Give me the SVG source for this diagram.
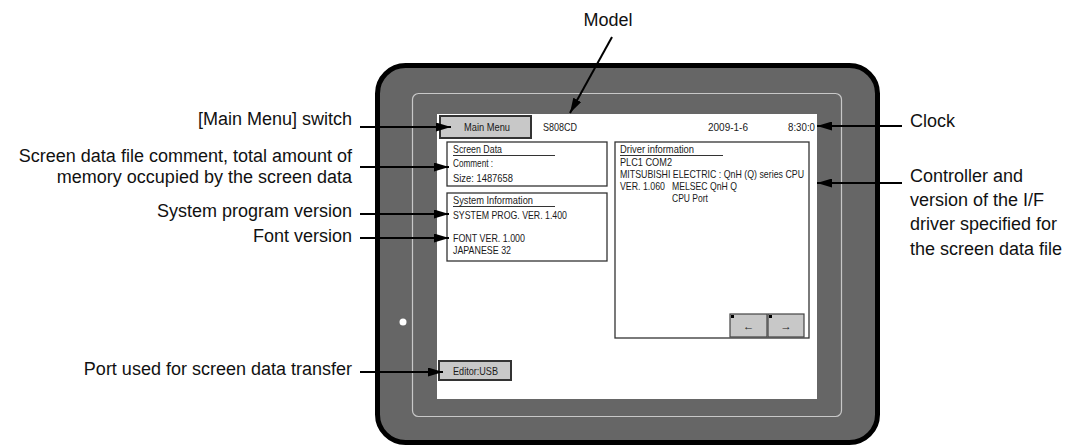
<svg xmlns="http://www.w3.org/2000/svg" width="1067" height="447" viewBox="0 0 1067 447">
<style>
.lbl{font-family:"Liberation Sans",Arial,sans-serif;font-size:18px;fill:#111}
.scr{font-family:"Liberation Sans",Arial,sans-serif;font-size:11.5px;fill:#1a1a1a}
.drv{font-size:10.4px}
.box{fill:#fff;stroke:#333;stroke-width:1.3}
.btn{fill:#c8c8c8;stroke:#333;stroke-width:2}
.sbtn{fill:#c8c8c8;stroke:#444;stroke-width:1.2}
.ul{stroke:#333;stroke-width:1}
.conn{stroke:#000;stroke-width:2;fill:none;marker-end:url(#ah)}
</style>
<defs>
<marker id="ah" viewBox="0 0 15 9" refX="15" refY="4.5" markerWidth="15" markerHeight="9" markerUnits="userSpaceOnUse" orient="auto">
<path d="M0,0 L15,4.5 L0,9 z" fill="#000"/>
</marker>
</defs>
<rect width="1067" height="447" fill="#fff"/>
<g id="device">
<rect x="377.5" y="65.5" width="500" height="377" rx="28" fill="#666" stroke="#000" stroke-width="5"/>
<rect x="412.5" y="93.5" width="429" height="323" rx="6" fill="none" stroke="#c8c8c8" stroke-width="1.2"/>
<circle cx="403" cy="322" r="3.5" fill="#fff"/>
<rect x="437" y="114" width="380" height="285" fill="#fff"/>
</g>
<g id="main-menu">
<rect class="btn" x="440" y="116" width="91" height="22"/>
<text class="scr" x="464" y="131" textLength="46" lengthAdjust="spacingAndGlyphs">Main Menu</text>
</g>
<g id="model-name">
<text class="scr" x="543" y="131" textLength="34" lengthAdjust="spacingAndGlyphs">S808CD</text>
</g>
<g id="clock">
<text class="scr" x="708" y="131" textLength="40" lengthAdjust="spacingAndGlyphs">2009-1-6</text>
<text class="scr" x="788" y="131" textLength="27" lengthAdjust="spacingAndGlyphs">8:30:0</text>
</g>
<g id="screen-data">
<rect class="box" x="447" y="142" width="160" height="44"/>
<text class="scr" x="453" y="153" textLength="49" lengthAdjust="spacingAndGlyphs">Screen Data</text>
<line class="ul" x1="453" y1="155.5" x2="555" y2="155.5"/>
<text class="scr" x="453" y="167" textLength="40" lengthAdjust="spacingAndGlyphs">Comment :</text>
<text class="scr" x="453" y="182" textLength="60" lengthAdjust="spacingAndGlyphs">Size: 1487658</text>
</g>
<g id="system-info">
<rect class="box" x="447" y="193" width="160" height="68"/>
<text class="scr" x="453" y="204" textLength="80" lengthAdjust="spacingAndGlyphs">System Information</text>
<line class="ul" x1="453" y1="206.5" x2="555" y2="206.5"/>
<text class="scr" x="453" y="219" textLength="114" lengthAdjust="spacingAndGlyphs">SYSTEM PROG. VER. 1.400</text>
<text class="scr" x="453" y="241.5" textLength="72" lengthAdjust="spacingAndGlyphs">FONT VER. 1.000</text>
<text class="scr" x="453" y="253.5" textLength="58" lengthAdjust="spacingAndGlyphs">JAPANESE 32</text>
</g>
<g id="driver-info">
<rect class="box" x="615" y="142" width="194" height="196"/>
<text class="scr" x="620" y="153" textLength="74" lengthAdjust="spacingAndGlyphs">Driver information</text>
<line class="ul" x1="620" y1="155.5" x2="723" y2="155.5"/>
<text class="scr drv" x="620" y="165.5" textLength="52" lengthAdjust="spacingAndGlyphs">PLC1 COM2</text>
<text class="scr drv" x="620" y="177.5" textLength="184" lengthAdjust="spacingAndGlyphs">MITSUBISHI ELECTRIC : QnH (Q) series CPU</text>
<text class="scr drv" x="620" y="189.5" textLength="45" lengthAdjust="spacingAndGlyphs">VER. 1.060</text>
<text class="scr drv" x="672" y="189.5" textLength="65" lengthAdjust="spacingAndGlyphs">MELSEC QnH Q</text>
<text class="scr drv" x="672" y="201.5" textLength="36" lengthAdjust="spacingAndGlyphs">CPU Port</text>
</g>
<g id="page-buttons">
<rect class="sbtn" x="730" y="314" width="37" height="23"/>
<rect x="731" y="315" width="3" height="3" fill="#000"/>
<text class="scr" x="748.5" y="330" text-anchor="middle" font-size="11">←</text>
<rect class="sbtn" x="768" y="314" width="36" height="23"/>
<rect x="769" y="315" width="3" height="3" fill="#000"/>
<text class="scr" x="786" y="330" text-anchor="middle" font-size="11">→</text>
</g>
<g id="editor-usb">
<rect class="btn" x="439" y="361" width="72" height="19"/>
<text class="scr" x="453" y="375" textLength="45" lengthAdjust="spacingAndGlyphs">Editor:USB</text>
</g>
<g id="labels">
<text class="lbl" x="608" y="26" text-anchor="middle">Model</text>
<text class="lbl" x="352" y="125" text-anchor="end">[Main Menu] switch</text>
<text class="lbl" x="352" y="162" text-anchor="end">Screen data file comment, total amount of</text>
<text class="lbl" x="352" y="183" text-anchor="end">memory occupied by the screen data</text>
<text class="lbl" x="352" y="217" text-anchor="end">System program version</text>
<text class="lbl" x="352" y="242" text-anchor="end">Font version</text>
<text class="lbl" x="352" y="375" text-anchor="end">Port used for screen data transfer</text>
<text class="lbl" x="910" y="127">Clock</text>
<text class="lbl" x="910" y="182">Controller and</text>
<text class="lbl" x="910" y="206">version of the I/F</text>
<text class="lbl" x="910" y="230">driver specified for</text>
<text class="lbl" x="910" y="255">the screen data file</text>
</g>
<g id="connectors">
<line class="conn" x1="612" y1="37" x2="570" y2="113"/>
<line class="conn" x1="360" y1="127" x2="451" y2="127"/>
<line class="conn" x1="360" y1="167" x2="449" y2="167"/>
<line class="conn" x1="360" y1="214" x2="449" y2="214"/>
<line class="conn" x1="360" y1="238" x2="449" y2="238"/>
<line class="conn" x1="360" y1="372" x2="443" y2="372"/>
<line class="conn" x1="902" y1="126" x2="817" y2="126"/>
<line class="conn" x1="902" y1="183" x2="817" y2="183"/>
</g>
</svg>
